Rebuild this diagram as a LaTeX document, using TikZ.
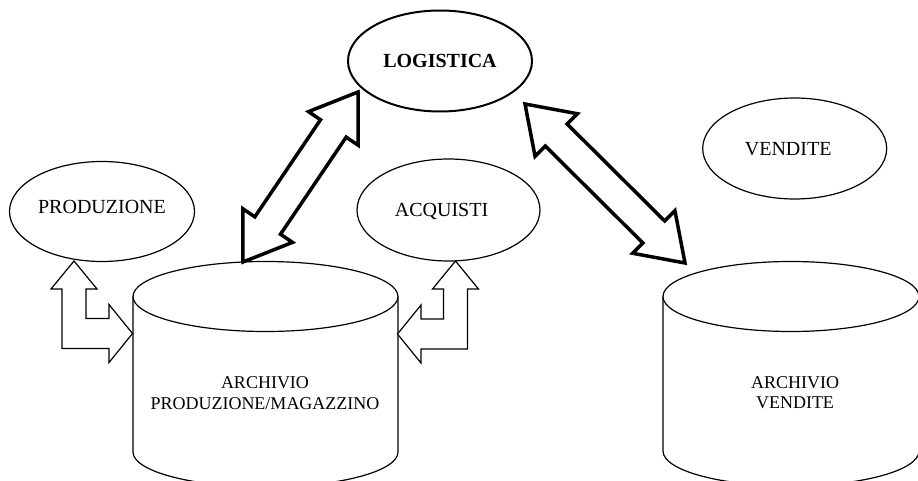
\documentclass[tikz,border=0pt]{standalone}
\usepackage{fontspec}
\setmainfont{Liberation Serif}
\usetikzlibrary{calc,shapes.geometric}

\tikzset{
  oval/.style={ellipse, draw, line width=1.2pt, inner sep=0pt,
    minimum width=184pt, minimum height=101pt, text depth=0pt,
    font=\fontsize{20pt}{24pt}\selectfont},
  hub/.style={oval, line width=2pt,
    font=\fontsize{20pt}{24pt}\selectfont\bfseries},
  dbtext/.style={align=center, inner sep=0pt,
    font=\fontsize{18pt}{20.7pt}\selectfont},
  dbline/.style={line width=1.2pt},
  bendarrow/.style={line width=1.2pt, line join=miter, fill=white},
  twoway/.style={line width=3.5pt, line join=miter, fill=white},
}

% thick two-headed block arrow between two points
\newcommand{\twowayarrow}[2]{%
  \draw[twoway] (#1)
    -- ($(#1)!44pt!(#2)!30pt!90:(#2)$)
    -- ($(#1)!44pt!(#2)!15.5pt!90:(#2)$)
    -- ($(#2)!44pt!(#1)!15.5pt!-90:(#1)$)
    -- ($(#2)!44pt!(#1)!30pt!-90:(#1)$)
    -- (#2)
    -- ($(#2)!44pt!(#1)!30pt!90:(#1)$)
    -- ($(#2)!44pt!(#1)!15.5pt!90:(#1)$)
    -- ($(#1)!44pt!(#2)!15.5pt!-90:(#2)$)
    -- ($(#1)!44pt!(#2)!30pt!-90:(#2)$)
    -- cycle;}

% L-shaped block arrow: #1 upper tip, #2 side tip, #3 = 1 (side tip right) or -1 (left)
\newcommand{\bendblock}[3]{%
  \draw[bendarrow] (#1)
    -- ($(#1)+({(#3)*23},28)$)
    -- ($(#1)+({(#3)*12},28)$)
    -- ($(#1|-#2)+({(#3)*12},-15)$)
    -- ($(#2)+({-1*(#3)*23.5},-15)$)
    -- ($(#2)+({-1*(#3)*23.5},-29)$)
    -- (#2)
    -- ($(#2)+({-1*(#3)*23.5},29)$)
    -- ($(#2)+({-1*(#3)*23.5},15)$)
    -- ($(#1|-#2)+({-1*(#3)*12},15)$)
    -- ($(#1)+({-1*(#3)*12},28)$)
    -- ($(#1)+({-1*(#3)*23},28)$)
    -- cycle;}

\begin{document}
\begin{tikzpicture}[x=1pt,y=-1pt]
\useasboundingbox (0,0) rectangle (918,481);
\fill[white] (0,0) rectangle (918,481);
\begin{scope}
\clip (0,0) rectangle (918,481);

% ellipses
\node[hub]  (logistica)  at (440,61)      {LOGISTICA};
\node[oval, minimum width=185pt, minimum height=100pt, text depth=10pt]
            (produzione) at (102,211.5)   {PRODUZIONE};
\node[oval, minimum width=183pt, minimum height=102pt]
            (acquisti)   at (448.5,210)   {\hspace*{-14pt}ACQUISTI};
\node[oval] (vendite)    at (794.7,148.5) {\hspace*{-13pt}VENDITE};

% archive cylinders
\draw[dbline] (133,296.5) -- (133,452)
  arc[start angle=180, end angle=360, x radius=132.5pt, y radius=35pt]
  -- (398,296.5);
\draw[dbline] (265.5,296.5) ellipse [x radius=132.5pt, y radius=35pt];
\node[dbtext] (archprod) at (265,392.8) {ARCHIVIO\\PRODUZIONE/MAGAZZINO};

\draw[dbline] (663,296.5) -- (663,451)
  arc[start angle=180, end angle=360, x radius=128pt, y radius=35pt]
  -- (919,296.5);
\draw[dbline] (791,296.5) ellipse [x radius=128pt, y radius=35pt];
\node[dbtext] (archvend) at (795,392.8) {ARCHIVIO\\VENDITE};

% arrow end points
\coordinate (lgA) at (243,262);
\coordinate (lgB) at (358,92);
\coordinate (vdA) at (525,104);
\coordinate (vdB) at (685,263);
\coordinate (prUp)   at (74,261);
\coordinate (prSide) at (132.5,333.5);
\coordinate (acUp)   at (455.5,261);
\coordinate (acSide) at (397.5,334);

% connectors
\twowayarrow{lgA}{lgB}
\twowayarrow{vdA}{vdB}
\bendblock{prUp}{prSide}{1}
\bendblock{acUp}{acSide}{-1}
\end{scope}
\end{tikzpicture}
\end{document}
